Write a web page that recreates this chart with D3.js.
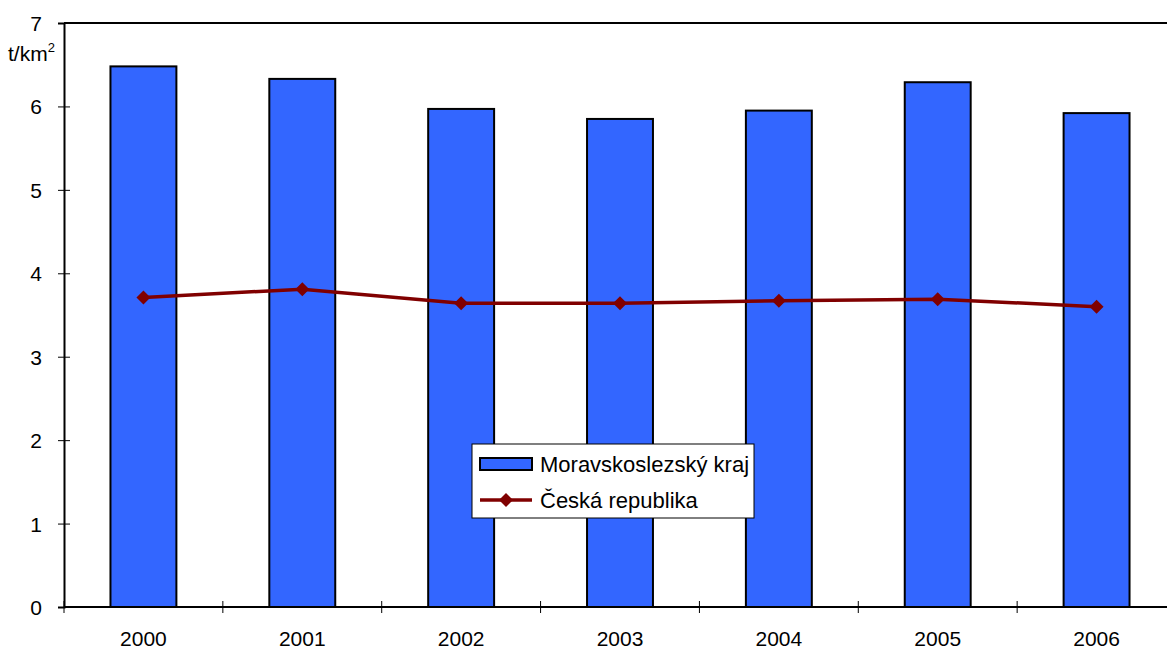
<!DOCTYPE html>
<html>
<head>
<meta charset="utf-8">
<script src="https://cdn.jsdelivr.net/npm/d3@7"></script>
<style>
  body { margin:0; background:#fff; }
  .plot { width:1167px; height:650px; overflow:hidden; }
  text { font-family: "Liberation Sans", Arial, sans-serif; fill:#000; }
</style>
</head>
<body>
<div class="plot"></div>
<script>
var years = ['2000','2001','2002','2003','2004','2005','2006'];
var moravskoslezsky = [6.48, 6.33, 5.97, 5.85, 5.95, 6.29, 5.92];
var ceskaRepublika = [3.71, 3.81, 3.64, 3.64, 3.67, 3.69, 3.60];
var yTicks = [0,1,2,3,4,5,6,7];

var m = {t:23, l:64, b:43},
    w = 1112,
    h = 650 - m.t - m.b;

var svg = d3.select('.plot').append('svg')
    .attr('width',1167)
    .attr('height',650);

var plot = svg.append('g')
    .attr('transform','translate('+m.l+','+m.t+')');

var x = d3.scaleBand().domain(years).range([0,w]).paddingInner(0.585).paddingOuter(0.2925);
var y = d3.scaleLinear().domain([0,7]).range([h,0]);

// top border of plot area
plot.append('line').attr('x1',0).attr('x2',w).attr('y1',0).attr('y2',0)
    .attr('stroke','#000').attr('stroke-width',2);

// bars
plot.selectAll('rect.bar')
    .data(moravskoslezsky)
    .enter()
    .append('rect')
    .attr('class','bar')
    .attr('x',function(d,i){return x(years[i])})
    .attr('y',function(d){return y(d)})
    .attr('width',x.bandwidth())
    .attr('height',function(d){return h - y(d)})
    .attr('fill','#3366ff')
    .attr('stroke','#000')
    .attr('stroke-width',2);

// y axis
var yAxis = plot.append('g')
    .call(d3.axisLeft(y).tickValues(yTicks).tickSize(6).tickPadding(16).tickFormat(d3.format('d')));
yAxis.select('.domain').attr('stroke','#000').attr('stroke-width',2);
yAxis.selectAll('.tick line').attr('stroke','#000').attr('x2',6).attr('x1',-6);
yAxis.selectAll('text').attr('font-size',null).style('font-size','21px').attr('dy','0.36em');

// x axis
var step = x.step();
var xAxis = plot.append('g')
    .attr('transform','translate(0,'+h+')');
xAxis.append('line').attr('x1',0).attr('x2',w).attr('stroke','#000').attr('stroke-width',2);
xAxis.selectAll('line.tick')
    .data(d3.range(years.length))
    .enter()
    .append('line')
    .attr('x1',function(i){return i*step}).attr('x2',function(i){return i*step})
    .attr('y1',-6).attr('y2',6)
    .attr('stroke','#000').attr('stroke-width',1);
xAxis.selectAll('text')
    .data(years)
    .enter()
    .append('text')
    .attr('x',function(d){return x(d)+x.bandwidth()/2})
    .attr('y',39)
    .attr('text-anchor','middle')
    .style('font-size','21px')
    .text(function(d){return d});

// line series
var line = d3.line()
    .x(function(d,i){return x(years[i])+x.bandwidth()/2})
    .y(function(d){return y(d)});

plot.append('path')
    .datum(ceskaRepublika)
    .attr('d',line)
    .attr('fill','none')
    .attr('stroke','#800000')
    .attr('stroke-width',3.5);

var diamond = 'M0,-7L7,0L0,7L-7,0Z';
plot.selectAll('path.pt')
    .data(ceskaRepublika)
    .enter()
    .append('path')
    .attr('class','pt')
    .attr('d',diamond)
    .attr('transform',function(d,i){return 'translate('+(x(years[i])+x.bandwidth()/2)+','+y(d)+')'})
    .attr('fill','#800000');

// unit label
var unit = svg.append('text').attr('x',8).attr('y',61).style('font-size','21px');
unit.append('tspan').text('t/km');
unit.append('tspan').attr('dy',-9).style('font-size','13px').text('2');

// legend
var lg = svg.append('g').attr('transform','translate(472,444)');
lg.append('rect').attr('width',282).attr('height',74)
    .attr('fill','#fff').attr('stroke','#000').attr('stroke-width',1);
lg.append('rect').attr('x',8).attr('y',14).attr('width',52).attr('height',12)
    .attr('fill','#3366ff').attr('stroke','#000').attr('stroke-width',2);
lg.append('text').attr('x',68).attr('y',28).style('font-size','22px').text('Moravskoslezský kraj');
lg.append('line').attr('x1',8).attr('x2',60).attr('y1',56).attr('y2',56)
    .attr('stroke','#800000').attr('stroke-width',3.5);
lg.append('path').attr('d',diamond).attr('transform','translate(34,56)').attr('fill','#800000');
lg.append('text').attr('x',68).attr('y',64).style('font-size','22px').text('Česká republika');
</script>
</body>
</html>
